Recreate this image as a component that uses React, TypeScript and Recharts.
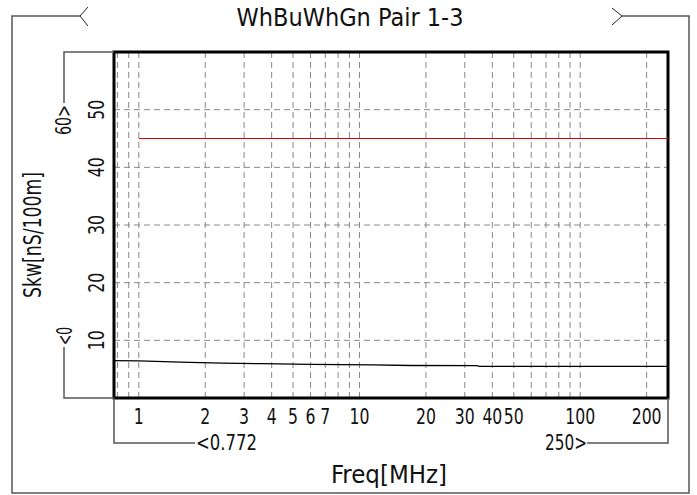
import { LineChart, Line, XAxis, YAxis, CartesianGrid, ReferenceArea } from 'recharts';

// frequency sweep, MHz
const skewFreq = [0.772, 1, 1.3, 1.7, 2.4, 3.6, 6, 11.5, 17, 34, 35, 250];
// measured skew, nS/100m
const skewValues = [6.47, 6.45, 6.32, 6.17, 6.06, 5.95, 5.83, 5.73, 5.64, 5.62, 5.5, 5.48];
// limit line
const limitFreq = [1, 250];
const limitValues = [45, 45];

const xGridTicks = [0.8, 0.9, 1, 2, 3, 4, 5, 6, 7, 8, 9, 10, 20, 30, 40, 50, 60, 70, 80, 90, 100, 200];
const xLabeled = [1, 2, 3, 4, 5, 6, 7, 10, 20, 30, 40, 50, 100, 200];
const yTicks = [10, 20, 30, 40, 50];

const FONT = '"DejaVu Sans Condensed", "DejaVu Sans", sans-serif';
const SQUEEZE = 0.83; // ref font is narrower than anything installed

const measured = skewFreq.map((f, i) => ({ f, v: skewValues[i] }));
const limit = limitFreq.map((f, i) => ({ f, v: limitValues[i] }));

// narrow text: drawn at origin, squeezed along its own direction
function Narrow({ x, y, rot = 0, size = 21, anchor = 'middle', children }: any) {
  return (
    <g transform={`translate(${x} ${y}) rotate(${rot}) scale(${SQUEEZE} 1)`}>
      <text x={0} y={0} textAnchor={anchor} dominantBaseline="central" fontSize={size} fontFamily={FONT} fill="#111">
        {children}
      </text>
    </g>
  );
}

// text fitted to a measured length
function Fitted({ x, y, rot = 0, size = 24, len, anchor = 'middle', children }: any) {
  return (
    <text
      x={x}
      y={y}
      transform={rot ? `rotate(${rot} ${x} ${y})` : undefined}
      textAnchor={anchor}
      dominantBaseline="central"
      fontSize={size}
      fontFamily={FONT}
      fill="#111"
      textLength={len}
      lengthAdjust="spacingAndGlyphs"
    >
      {children}
    </text>
  );
}

const XTick = (props: any) => {
  const { x, y, payload } = props;
  if (!xLabeled.includes(payload.value)) return null;
  return <Narrow x={x} y={y + 19}>{payload.value}</Narrow>;
};

const YTick = (props: any) => {
  const { x, y, payload } = props;
  return <Narrow x={x - 17} y={y} rot={-90}>{payload.value}</Narrow>;
};

export default function App() {
  const gray = '#555';
  return (
    <div style={{ position: 'fixed', left: 0, top: 0, width: 697, height: 495, background: '#fff' }}>
      <LineChart width={697} height={495} margin={{ top: 52, right: 29, left: 0, bottom: 0 }}>
        <CartesianGrid stroke="#888" strokeDasharray="6 4" />
        <XAxis
          dataKey="f"
          type="number"
          scale="log"
          domain={[0.772, 250]}
          allowDataOverflow
          ticks={xGridTicks}
          interval={0}
          tick={<XTick />}
          tickLine={false}
          axisLine={false}
          tickSize={0}
          tickMargin={0}
          height={97}
        />
        <YAxis
          type="number"
          domain={[0, 60]}
          ticks={yTicks}
          interval={0}
          tick={<YTick />}
          tickLine={false}
          axisLine={false}
          tickSize={0}
          tickMargin={0}
          width={114}
        />
        <ReferenceArea x1={0.772} x2={250} y1={0} y2={60} fill="none" stroke="#000" strokeWidth={3} />
        <Line data={limit} dataKey="v" stroke="#e00000" strokeWidth={1} dot={false} isAnimationActive={false} />
        <Line data={measured} dataKey="v" stroke="#000" strokeWidth={1.3} dot={false} isAnimationActive={false} />
      </LineChart>
      <svg width={697} height={495} style={{ position: 'absolute', left: 0, top: 0, pointerEvents: 'none' }}>
        <g fill="none" stroke={gray} strokeWidth={1.5}>
          <path d="M80,16 L12,16 L12,493 L689,493 L689,16 L622,16" />
          <path d="M88,7 L80,16 L88,26" stroke="#222" strokeWidth={1} />
          <path d="M612,8 L622,16 L612,25" stroke="#222" strokeWidth={1} />
          <path d="M64,103 L64,52 L114,52" />
          <path d="M64,347 L64,398 L114,398" />
          <path d="M114,398 L114,443 L195,443" />
          <path d="M587,443 L668,443 L668,398" />
        </g>
        <Fitted x={350} y={18} len={227}>WhBuWhGn Pair 1-3</Fitted>
        <Fitted x={389} y={475} len={116}>Freq[MHz]</Fitted>
        <Fitted x={33} y={235} rot={-90} len={126}>Skw[nS/100m]</Fitted>
        <Fitted x={64} y={120} rot={-90} size={21} len={30}>60&gt;</Fitted>
        <Fitted x={65} y={336} rot={-90} size={21} len={18}>&lt;0</Fitted>
        <Fitted x={196} y={443} size={21} len={61} anchor="start">&lt;0.772</Fitted>
        <Fitted x={587} y={443} size={21} len={42} anchor="end">250&gt;</Fitted>
      </svg>
    </div>
  );
}
